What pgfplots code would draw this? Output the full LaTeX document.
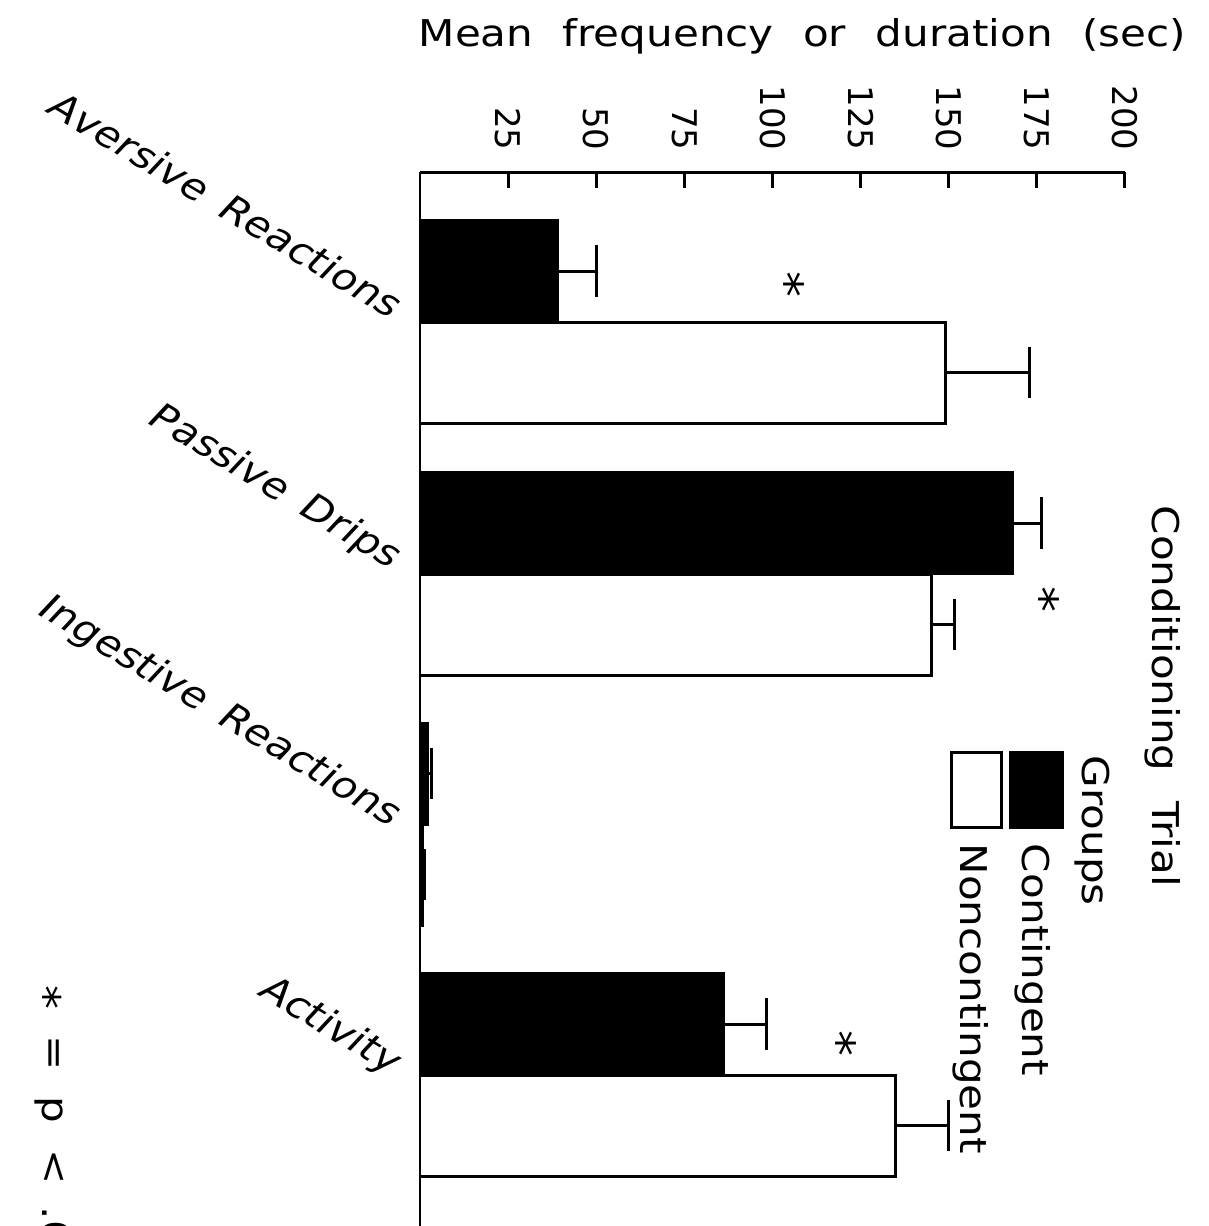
\documentclass[border=0pt]{standalone}
\usepackage{fontspec}
\setmainfont{DejaVu Sans}[FakeStretch=1.14, WordSpace=2.2]
\newfontfamily\tickfont{DejaVu Sans}
\newfontfamily\labfont{DejaVu Sans}[FakeStretch=1.1, WordSpace=1.6]
\usepackage{pgfplots}
\pgfplotsset{compat=1.18}
\begin{document}
\begin{tikzpicture}[font=\fontsize{10.5pt}{12.6pt}\selectfont]
\begin{axis}[
  at={(42mm,-17.2mm)}, anchor=north west,
  width=70.5mm, height=106.8mm, scale only axis,
  xmin=0, xmax=200, ymin=-1240, ymax=-172,
  axis x line*=top, axis y line*=left,
  axis line style={line width=0.85pt, black},
  xtick={25,50,75,100,125,150,175,200},
  xtick align=inside, major tick length=1.6mm,
  xtick style={line width=0.85pt, black},
  /pgf/number format/assume math mode=true,
  xticklabel style={font=\tickfont\fontsize{9.67pt}{11pt}\selectfont, rotate=-90, anchor=east, inner sep=0pt},
  xticklabel shift=2.1mm,
  ytick={-320,-570,-828,-1076},
  yticklabels={Aversive Reactions, Passive Drips, Ingestive Reactions, Activity},
  yticklabel style={font=\labfont\itshape\fontsize{10.7pt}{12.6pt}\selectfont, rotate=-31, anchor=base east, inner sep=0pt},
  yticklabel shift=1.2mm,
  ytick style={draw=none},
  xbar, bar width=101, bar shift=0pt,
  clip=false,
]
% Contingent
\addplot[fill=black, draw=black, line width=0.85pt,
  error bars/.cd, x dir=plus, x explicit,
  error mark options={rotate=90, mark size=7.3pt, line width=0.85pt, black},
  error bar style={line width=0.85pt, black}]
coordinates {
  (39.1,-271) +- (11.1,0)
  (168.2,-523) +- (8.0,0)
  (2.0,-773.5) +- (1.4,0)
  (86.0,-1024) +- (12.4,0)
};
% Noncontingent
\addplot[fill=white, draw=black, line width=0.85pt,
  error bars/.cd, x dir=plus, x explicit,
  error mark options={rotate=90, mark size=7.3pt, line width=0.85pt, black},
  error bar style={line width=0.85pt, black}]
coordinates {
  (149.2,-372.5) +- (23.8,0)
  (145.0,-624.5) +- (6.5,0)
  (0.6,-874.5) +- (0.6,0)
  (135.0,-1125.5) +- (14.8,0)
};
\end{axis}
\begin{scope}[x=0.1mm, y=-0.1mm]
\node[anchor=base west, inner sep=0pt] at (418,46) {Mean frequency or duration (sec)};
\node[rotate=-90, anchor=base west, inner sep=0pt] at (1152,505) {Conditioning Trial};
\node[rotate=-90, anchor=base west, inner sep=0pt] at (1082,755) {Groups};
\node[rotate=-90, anchor=base west, inner sep=0pt] at (1022,843) {Contingent};
\node[rotate=-90, anchor=base west, inner sep=0pt] at (960,843) {Noncontingent};
\draw[line width=0.85pt, fill=black] (1010,752) rectangle (1062,827);
\draw[line width=0.85pt, fill=white] (951,752) rectangle (1001,827);
\node[rotate=-90, anchor=base, inner sep=0pt, font=\fontsize{13pt}{14pt}\selectfont] at (770,285) {*};
\node[rotate=-90, anchor=base, inner sep=0pt, font=\fontsize{13pt}{14pt}\selectfont] at (1025,600) {*};
\node[rotate=-90, anchor=base, inner sep=0pt, font=\fontsize{13pt}{14pt}\selectfont] at (822,1043) {*};
\node[rotate=-90, anchor=base west, inner sep=0pt] at (42,985)
  {\raisebox{-0.3em}{\fontsize{12pt}{14pt}\selectfont *}\hspace{2.6mm}=\hspace{2.6mm}p\hspace{2.6mm}<\hspace{2.2mm}.05};
\end{scope}
\pgfresetboundingbox
\path[use as bounding box] (0,0) rectangle (120.8mm,-122.6mm);
\end{tikzpicture}
\end{document}
